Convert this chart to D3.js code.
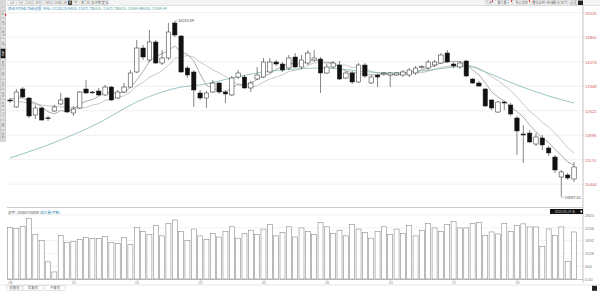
<!DOCTYPE html>
<html>
<head>
<meta charset="utf-8">
<script src="https://cdn.jsdelivr.net/npm/d3@7"></script>
<style>
  body { margin: 0; background: #fff; }
  svg { display: block; font-family: "Noto Sans CJK SC", "DejaVu Sans", sans-serif; }
</style>
</head>
<body>
<div id="chart"></div>
<script>
// candles, oldest first
const opens  = [12939,12732,13265,12998,12495,12702,12410,12613,12821,12998,12554,12702,13265,13176,13206,13088,13324,12998,13176,13324,
  13769,14480,14124,14658,14035,14184,15221,14835,13887,13769,13147,12998,13176,13443,13176,13088,13620,13620,13295,13561,
  13620,13769,14065,14006,13887,14213,13917,14035,14124,14154,13739,13917,13976,13591,13739,13473,13976,13443,13680,13710,
  13680,13680,13680,13680,13739,13917,13887,13976,14035,14332,14006,13917,14095,13561,13443,13265,12939,12583,12880,12791,
  12406,11932,11961,11635,11813,11517,11250,10658,10717,10598];
const highs  = [12998,13265,13324,13028,12791,12732,12465,12791,13147,13028,12761,13206,13532,13206,13295,13384,13354,13235,13443,13828,
  14717,14569,15013,14717,14421,15221,15283.09,14865,13947,13828,13235,13206,13532,13473,13235,13650,13828,13680,13502,13917,
  14184,14184,14124,14065,14273,14332,14273,14421,14421,14213,14006,14095,14095,13798,13798,14035,14035,13680,13710,13769,
  13769,13769,13828,13887,13947,13976,14124,14124,14332,14421,14065,14095,14124,13591,13502,13295,12969,12910,12910,12850,
  12465,12198,12051,11961,11902,11576,11310,10865,10776,11103];
const lows   = [12850,12702,12998,12406,12376,12317,12317,12583,12791,12554,12465,12672,13117,13117,13058,13058,12910,12969,13147,13295,
  13739,14124,14065,14006,13976,14124,14806,13739,13591,12732,12939,12702,13147,13117,12850,13058,13561,13265,13176,13532,
  13591,13739,13947,13769,13828,13887,13858,13976,14065,13147,13710,13858,13532,13561,13413,13443,13591,13413,13324,13650,
  13324,13650,13620,13620,13680,13858,13828,13917,14006,14035,13887,13858,13620,13413,13324,12732,12643,12554,12643,12465,
  11310,11073,11665,11576,11458,11280,10776,10087.53,10569,10510];
const closes = [12910,13176,13028,12465,12702,12346,12400,12732,12939,12583,12672,13176,13147,13170,13088,13324,12939,13176,13324,13739,
  14480,14213,14658,14035,14184,14954,14865,13769,13680,13235,12998,13147,13443,13176,13117,13591,13739,13295,13443,13680,
  14065,14065,14006,13828,14184,13917,14124,14332,14184,13739,13917,14035,13561,13739,13473,13976,13650,13620,13620,13739,
  13739,13739,13769,13828,13887,13925,14065,14065,14273,14065,13947,14035,13650,13443,13354,12761,12702,12880,12850,12524,
  12021,11902,11695,11843,11606,11369,10865,10806,10628,10954];
const volumes = [2264,2220,2309,2664,1954,1687,755,311,1909,1598,1643,1732,1820,1776,1776,1865,1598,1554,1820,1510,
  2264,2087,1954,2350,1900,2450,2600,2100,1700,2200,1900,1750,2000,1850,2100,2300,1800,2000,2150,1950,
  2200,2400,1900,2050,2300,1850,2250,2100,1950,2500,2300,2000,2150,1900,2400,2200,2050,1800,2100,2300,
  1950,2200,2000,2350,1900,2150,2450,2250,2100,2400,2544,2251,2251,2442,2500,1923,2073,1985,2442,2100,
  2367,2429,2295,2295,1434,2207,1923,2295,768,2073];
const ma5 = [12969,12998,12998,12909,12856,12743,12589,12530,12625,12601,12666,12820,12903,12951,13052,13182,13135,13141,13170,13300,
  13532,13786,14083,14225,14314,14409,14539,14361,14290,14101,13709,13366,13300,13200,13176,13295,13413,13384,13437,13549,
  13644,13709,13852,13929,14029,14000,14012,14077,14148,14059,14059,14041,13887,13798,13745,13757,13680,13692,13668,13721,
  13674,13692,13721,13763,13792,13828,13893,13952,14041,14077,14083,14077,13994,13828,13686,13449,13182,13028,12909,12743,
  12595,12435,12198,11997,11813,11683,11475,11298,11100,11010];
const ma10 = [12939,12909,12880,12850,12820,12791,12761,12761,12732,12729,12705,12705,12717,12788,12827,12924,12978,13022,13060,13176,
  13357,13460,13612,13698,13807,13970,14163,14222,14258,14207,14059,13952,13831,13745,13638,13502,13389,13342,13318,13363,
  13469,13561,13618,13683,13789,13822,13861,13964,14038,14044,14029,14026,13982,13973,13902,13908,13861,13789,13733,13733,
  13715,13686,13706,13715,13757,13751,13792,13837,13902,13935,13955,13985,13973,13935,13881,13766,13629,13511,13369,13215,
  13022,12809,12613,12453,12278,12139,11955,11748,11526,11369];
// long average, read at a few candles
const maLongIdx = [0,8,14,20,24,27,30,35,40,45,50,55,60,65,70,72,75,80,85,89];
const maLongVal = [11220,11754,12258,12880,13176,13324,13384,13591,13769,13858,13887,13798,13739,13798,13917,13947,13769,13384,13058,12850];

const priceTicks = [15526,14800,14074,13348,12622,11896,11170,10444];
const volTicks = [2820,2256,1692,1128,564,0];
const dateIdx = [0,10,20,30,40,50,60,70,80];
const dateLabels = ['08','10','01','02','05','06','10','12','03'];
const maLegend = ['MA5: 11138.28','MA10: 11872.73','MA15: 11672.73','MA20: 13409.44','MA30: 13409.44'];

const W = 600, H = 291;
const left = 7, right = 583;

const svg = d3.select('#chart').append('svg')
  .attr('width', W).attr('height', H);

const n = closes.length;
const x = d3.scaleLinear().domain([0, n - 1]).range([10, 574]);
const y = d3.scaleLinear().domain([10444, 15526]).range([184.2, 12.7]);
const yv = d3.scaleLinear().domain([0, 2820]).range([279, 215]);

// --- chrome: top toolbar, left tabs ---
svg.append('rect').attr('x', 0).attr('y', 0).attr('width', W).attr('height', 5.5).attr('fill', '#f4f4f4');
svg.append('line').attr('x1', 0).attr('x2', W).attr('y1', 5.5).attr('y2', 5.5).attr('stroke', '#ccc').attr('stroke-width', 0.5);
const leftBtns = [[8,16,'1分'],[17,25,'5分'],[26,33,'15分'],[34,43,'30分'],[45,53,'60分'],[54,62,'日线'],[63,67,'周'],[68,72,'K'],[73,78,'月'],[80,85,'季'],[86,90,'年'],[92,100,'多周期'],[102,108,'更多']];
leftBtns.forEach(([a, b, t]) => {
  const sel = t === 'K';
  svg.append('rect').attr('x', a).attr('y', 0.5).attr('width', b - a).attr('height', 4.5)
    .attr('fill', sel ? '#222' : '#fff').attr('stroke', '#bbb').attr('stroke-width', 0.4);
  svg.append('text').attr('x', (a + b) / 2).attr('y', 4).attr('text-anchor', 'middle')
    .attr('font-size', 3.2).attr('fill', sel ? '#fff' : '#666').text(t);
});
const rightBtns = [[485,493,'九转'],[495,512,'最大最小'],[513,530,'热点追踪'],[532,545,'叠加品种'],[547,553,'画线'],[554,559,'统计'],[560,568,'区间'],[570,577,'设置']];
rightBtns.forEach(([a, b, t], i) => {
  svg.append('rect').attr('x', a).attr('y', 0.5).attr('width', b - a).attr('height', 4.5)
    .attr('fill', '#fff').attr('stroke', '#bbb').attr('stroke-width', 0.4);
  svg.append('text').attr('x', (a + b) / 2).attr('y', 4).attr('text-anchor', 'middle')
    .attr('font-size', 3.2).attr('fill', '#666').text(t);
  if (i < 3) svg.append('rect').attr('x', b - 1).attr('y', 0.5).attr('width', 1).attr('height', 1.5).attr('fill', '#e00');
});
svg.append('rect').attr('x', 578).attr('y', 0.5).attr('width', 5).attr('height', 4.5).attr('fill', '#222');

svg.append('rect').attr('x', 0).attr('y', 0).attr('width', 6).attr('height', 142).attr('fill', '#d8d8d8');
const tabs = ['分时','日K','周K','月K','指标','资金','筹码','主力','龙虎','财务','F10','资讯','研报'];
tabs.forEach((t, i) => {
  const ty = 8 + i * 10.2;
  const sel = i === 4;
  svg.append('rect').attr('x', 0.5).attr('y', ty).attr('width', 5).attr('height', 9.4)
    .attr('fill', sel ? '#111' : '#e4e4e4').attr('stroke', '#aaa').attr('stroke-width', 0.3);
  svg.append('text').attr('x', 3).attr('y', ty + 4.8).attr('text-anchor', 'middle')
    .attr('font-size', 2.8).attr('fill', sel ? '#fff' : '#777')
    .attr('writing-mode', 'tb').text(t);
});
svg.append('rect').attr('x', 5).attr('y', 14).attr('width', 1.2).attr('height', 1.6).attr('fill', '#e00');

// legend
svg.append('text').attr('x', 8).attr('y', 10).attr('font-size', 3.6).attr('fill', '#3a8fb5').text('移动平均线');
svg.append('text').attr('x', 27).attr('y', 10).attr('font-size', 3.6).attr('fill', '#3a8fb5').text('均线设置');
maLegend.forEach((t, i) => {
  svg.append('text').attr('x', 43 + i * 24.5).attr('y', 10).attr('font-size', 3.6)
    .attr('fill', i < 2 ? '#3a8fb5' : '#5aa6a6').text(t);
});

// --- price panel ---
const grid = svg.append('g');
grid.selectAll('line').data(priceTicks).join('line')
  .attr('x1', left).attr('x2', right)
  .attr('y1', d => y(d)).attr('y2', d => y(d))
  .attr('stroke', '#e4e4e4').attr('stroke-width', 0.6);

const axisR = d3.axisRight(y).tickValues(priceTicks).tickSize(0).tickPadding(2).tickFormat(d => d);
svg.append('g').attr('transform', `translate(${right},0)`).call(axisR)
  .call(g => g.select('.domain').remove())
  .call(g => g.selectAll('text').attr('font-size', 4.2).attr('fill', '#d06060'));
svg.append('line').attr('x1', right).attr('x2', right).attr('y1', 5.5).attr('y2', 283)
  .attr('stroke', '#999').attr('stroke-width', 0.6);

const lineGen = arr => d3.line().x((d, i) => x(i)).y(d => y(d))(arr);
svg.append('path').attr('d', lineGen(ma10)).attr('fill', 'none').attr('stroke', '#b0b0b0').attr('stroke-width', 0.7);
svg.append('path').attr('d', lineGen(ma5)).attr('fill', 'none').attr('stroke', '#8a8a8a').attr('stroke-width', 0.7);
const longLine = d3.line().x(d => x(d[0])).y(d => y(d[1])).curve(d3.curveMonotoneX);
svg.append('path').attr('d', longLine(maLongIdx.map((d, i) => [d, maLongVal[i]])))
  .attr('fill', 'none').attr('stroke', '#7fb8b8').attr('stroke-width', 0.8);

const bw = 4.4;
const candles = svg.append('g').selectAll('g').data(closes).join('g');
candles.append('line')
  .attr('x1', (d, i) => x(i)).attr('x2', (d, i) => x(i))
  .attr('y1', (d, i) => y(highs[i])).attr('y2', (d, i) => y(lows[i]))
  .attr('stroke', '#333').attr('stroke-width', 0.6);
candles.append('rect')
  .attr('x', (d, i) => x(i) - bw / 2)
  .attr('y', (d, i) => y(Math.max(opens[i], d)))
  .attr('width', bw)
  .attr('height', (d, i) => Math.max(0.8, Math.abs(y(opens[i]) - y(d))))
  .attr('fill', (d, i) => d < opens[i] ? '#111' : '#fff')
  .attr('stroke', '#222').attr('stroke-width', 0.5);

// high / low notes
const hi = d3.maxIndex(highs), lo = d3.minIndex(lows);
svg.append('line').attr('x1', x(hi)).attr('x2', x(hi) + 3).attr('y1', y(highs[hi])).attr('y2', y(highs[hi])).attr('stroke', '#666').attr('stroke-width', 0.4);
svg.append('text').attr('x', x(hi) + 3.5).attr('y', y(highs[hi]) + 1.3).attr('font-size', 3.8).attr('fill', '#444').text(highs[hi].toFixed(2));
svg.append('line').attr('x1', x(lo)).attr('x2', x(lo)).attr('y1', y(lows[lo])).attr('y2', y(lows[lo]) + 1).attr('stroke', '#666').attr('stroke-width', 0.4);
svg.append('line').attr('x1', x(lo)).attr('x2', x(lo) + 3).attr('y1', y(lows[lo]) + 1).attr('y2', y(lows[lo]) + 1).attr('stroke', '#666').attr('stroke-width', 0.4);
svg.append('text').attr('x', x(lo) + 3.5).attr('y', y(lows[lo]) + 2.3).attr('font-size', 3.8).attr('fill', '#444').text(lows[lo].toFixed(2));

// --- volume panel ---
svg.append('line').attr('x1', left).attr('x2', right).attr('y1', 207.5).attr('y2', 207.5).attr('stroke', '#aaa').attr('stroke-width', 0.6);
svg.append('text').attr('x', 8).attr('y', 214).attr('font-size', 3.6).attr('fill', '#555').text('总手: 28465726000');
svg.append('text').attr('x', 40).attr('y', 214).attr('font-size', 3.6).attr('fill', '#3a8fb5').text('成交量(手数)');

svg.append('g').selectAll('line').data(volTicks.slice(0, -1)).join('line')
  .attr('x1', left).attr('x2', right)
  .attr('y1', d => yv(d)).attr('y2', d => yv(d))
  .attr('stroke', '#e8e8e8').attr('stroke-width', 0.6);

svg.append('g').selectAll('rect').data(volumes).join('rect')
  .attr('x', (d, i) => x(i) - 2.5).attr('y', d => yv(d))
  .attr('width', 5).attr('height', d => yv(0) - yv(d))
  .attr('fill', '#fff').attr('stroke', '#777').attr('stroke-width', 0.5);

const axisV = d3.axisRight(yv).tickValues(volTicks).tickSize(0).tickPadding(2)
  .tickFormat(d => d === 0 ? '0.00' : d);
svg.append('g').attr('transform', `translate(${right},0)`).call(axisV)
  .call(g => g.select('.domain').remove())
  .call(g => g.selectAll('text').attr('font-size', 4).attr('fill', '#777'));

svg.append('rect').attr('x', 550).attr('y', 209).attr('width', 33).attr('height', 5).attr('fill', '#111');
svg.append('text').attr('x', 565).attr('y', 212.8).attr('text-anchor', 'middle').attr('font-size', 3.2).attr('fill', '#ccc').text('2025/03/14 五');
svg.append('rect').attr('x', 580.5).attr('y', 210.5).attr('width', 1.6).attr('height', 2).attr('fill', '#fff');

// x axis
svg.append('line').attr('x1', left).attr('x2', right).attr('y1', 279.5).attr('y2', 279.5).attr('stroke', '#888').attr('stroke-width', 0.5);
const xAxis = d3.axisBottom(x).tickValues(dateIdx).tickSize(1.5).tickPadding(0.5)
  .tickFormat((d, i) => dateLabels[i]);
svg.append('g').attr('transform', 'translate(0,279.5)').call(xAxis)
  .call(g => g.select('.domain').remove())
  .call(g => g.selectAll('line').attr('stroke', '#888').attr('stroke-width', 0.4))
  .call(g => g.selectAll('text').attr('font-size', 3.6).attr('fill', '#888'));
svg.append('line').attr('x1', 0).attr('x2', W).attr('y1', 285).attr('y2', 285).attr('stroke', '#ccc').attr('stroke-width', 0.5);

// bottom tabs
[['前复权', 7, 22], ['后复权', 23, 43], ['不复权', 45, 65]].forEach(([t, a, b]) => {
  svg.append('rect').attr('x', a).attr('y', 285.5).attr('width', b - a).attr('height', 5)
    .attr('fill', '#fff').attr('stroke', '#bbb').attr('stroke-width', 0.4);
  svg.append('text').attr('x', (a + b) / 2).attr('y', 289.3).attr('text-anchor', 'middle')
    .attr('font-size', 3.4).attr('fill', '#666').text(t);
});
svg.append('rect').attr('x', 592).attr('y', 285.8).attr('width', 5).attr('height', 5).attr('fill', '#222');
</script>
</body>
</html>
